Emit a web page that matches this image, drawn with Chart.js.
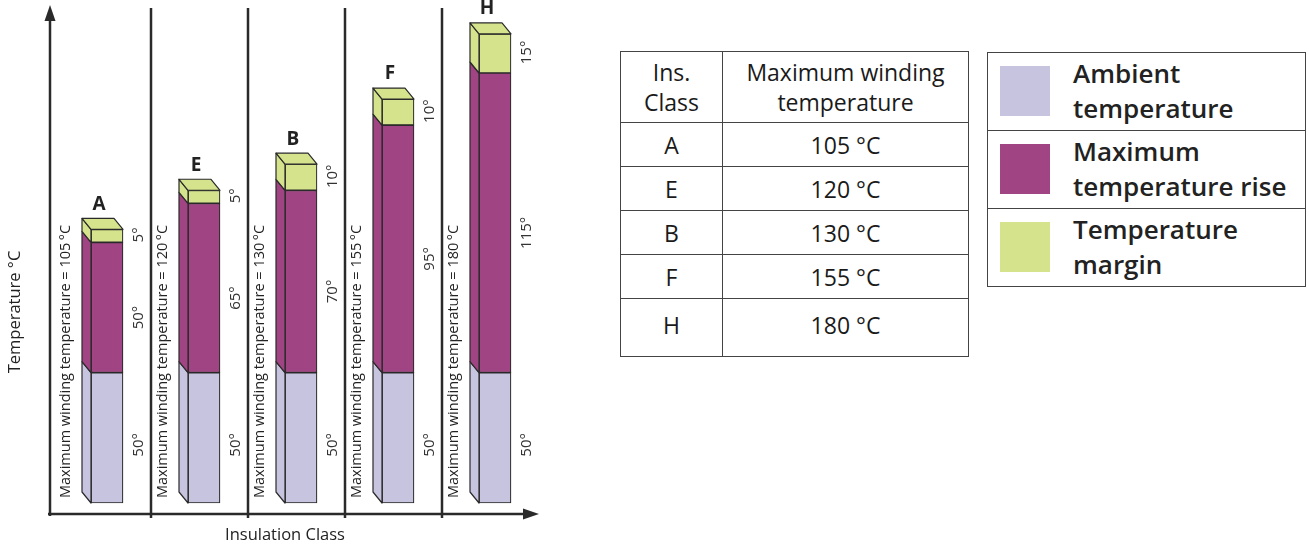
<!DOCTYPE html>
<html>
<head>
<meta charset="utf-8">
<script src="https://cdn.jsdelivr.net/npm/chart.js@4.4.1/dist/chart.umd.min.js"></script>
<style>
  body { margin: 0; background: #fff; width: 1309px; height: 549px; overflow: hidden; font-family: "Open Sans", Roboto, sans-serif; color: #222; }
  #chartBox { position: absolute; left: 0; top: 0; width: 600px; height: 549px; }
  #classTable { position: absolute; left: 620px; top: 51px; border-collapse: collapse; font-size: 23px; color: #1a1a1a; }
  #classTable td, #classTable th { border: 1.5px solid #444; text-align: center; font-weight: 500; padding: 0; }
  #classTable th { height: 70px; line-height: 30px; }
  #classTable td { height: 43px; }
  #classTable tr:last-child td { height: 51px; padding-bottom: 6px; }
  #legendBox { position: absolute; left: 987px; top: 52px; width: 317px; border: 1.5px solid #444; }
  .lg-row { position: relative; height: 77px; border-top: 1.5px solid #444; }
  .lg-row:first-child { border-top: none; }
  .lg-sw { position: absolute; left: 12px; top: 13px; width: 50px; height: 50px; }
  .lg-tx { position: absolute; left: 85px; top: 3px; font-size: 26px; font-weight: 600; line-height: 35px; color: #222; white-space: nowrap; }
</style>
</head>
<body>
<div id="chartBox"><canvas id="tempChart" width="600" height="549"></canvas></div>
<table id="classTable"></table>
<div id="legendBox"></div>
<script>
// datos del gráfico
const classes = ["A", "E", "B", "F", "H"];
const ambient = [50, 50, 50, 50, 50];
const rise = [50, 65, 70, 95, 115];
const margin = [5, 5, 10, 10, 15];
const maxWinding = [105, 120, 130, 155, 180];
const seriesNames = [["Ambient", "temperature"], ["Maximum", "temperature rise"], ["Temperature", "margin"]];
const seriesColors = ["#c7c4e0", "#a14483", "#d4e38c"];

const FONT = "'Open Sans', Roboto, sans-serif";

// tabla de clases
const table = document.getElementById("classTable");
let html = "<tr><th style='width:101px'>Ins.<br>Class</th><th style='width:245px'>Maximum winding<br>temperature</th></tr>";
classes.forEach((c, i) => {
  html += "<tr><td>" + c + "</td><td>" + maxWinding[i] + " \u00B0C</td></tr>";
});
table.innerHTML = html;

// leyenda
const legendBox = document.getElementById("legendBox");
seriesNames.forEach((n, i) => {
  legendBox.innerHTML += "<div class='lg-row'><div class='lg-sw' style='background:" + seriesColors[i] +
    "'></div><div class='lg-tx'>" + n[0] + "<br>" + n[1] + "</div></div>";
});

const DX = -9, DY = -11;
const lineColor = "#2a2a2a";

// caras laterales y superiores, ejes y rótulos
const box3d = {
  id: "box3d",
  beforeDatasetsDraw(chart) {
    const ctx = chart.ctx;
    const x = chart.scales.x;
    ctx.save();
    ctx.strokeStyle = lineColor;
    ctx.lineWidth = 2.5;
    // divisores
    for (let i = 1; i < classes.length; i++) {
      const px = Math.round((x.getPixelForValue(i - 1) + x.getPixelForValue(i)) / 2) - 5;
      ctx.beginPath();
      ctx.moveTo(px, 8);
      ctx.lineTo(px, 518);
      ctx.stroke();
    }
    // ejes
    ctx.beginPath();
    ctx.moveTo(50, 516);
    ctx.lineTo(50, 18);
    ctx.moveTo(48, 514);
    ctx.lineTo(528, 514);
    ctx.stroke();
    ctx.fillStyle = lineColor;
    ctx.beginPath();
    ctx.moveTo(50, 5); ctx.lineTo(44.5, 21); ctx.lineTo(55.5, 21); ctx.closePath(); ctx.fill();
    ctx.beginPath();
    ctx.moveTo(539, 514); ctx.lineTo(523, 508.5); ctx.lineTo(523, 519.5); ctx.closePath(); ctx.fill();
    // títulos de ejes
    ctx.fillStyle = "#222";
    ctx.font = "16.5px " + FONT;
    ctx.textAlign = "center";
    ctx.textBaseline = "middle";
    ctx.fillText("Insulation Class", 285, 535);
    ctx.save();
    ctx.translate(15, 312);
    ctx.rotate(-Math.PI / 2);
    ctx.fillText("Temperature \u00B0C", 0, 0);
    ctx.restore();
    ctx.restore();
  },
  afterDatasetsDraw(chart) {
    const ctx = chart.ctx;
    const n = chart.data.datasets.length;
    ctx.save();
    ctx.strokeStyle = lineColor;
    ctx.lineWidth = 1.2;
    ctx.lineJoin = "round";
    for (let d = 0; d < n; d++) {
      const ds = chart.data.datasets[d];
      chart.getDatasetMeta(d).data.forEach((bar, i) => {
        const x0 = bar.x - bar.width / 2, x1 = bar.x + bar.width / 2;
        const top = bar.y, bot = bar.base;
        ctx.fillStyle = ds.backgroundColor;
        // lateral
        ctx.beginPath();
        ctx.moveTo(x0, top);
        ctx.lineTo(x0 + DX, top + DY);
        ctx.lineTo(x0 + DX, bot + DY);
        ctx.lineTo(x0, bot);
        ctx.closePath();
        ctx.fill();
        ctx.stroke();
        if (d === n - 1) {
          // tapa
          ctx.beginPath();
          ctx.moveTo(x0, top);
          ctx.lineTo(x0 + DX, top + DY);
          ctx.lineTo(x1 + DX, top + DY);
          ctx.lineTo(x1, top);
          ctx.closePath();
          ctx.fill();
          ctx.stroke();
        }
        // valor del segmento
        const offs = [7, 10, -1];
        ctx.save();
        ctx.fillStyle = "#333";
        ctx.font = "15px " + FONT;
        ctx.textAlign = "center";
        ctx.textBaseline = "middle";
        ctx.translate(x1 + 16, (top + bot) / 2 + offs[d]);
        ctx.rotate(-Math.PI / 2);
        ctx.fillText(ds.data[i] + "\u00B0", 0, 0);
        ctx.restore();
      });
    }
    // letras de clase y texto vertical
    const last = chart.getDatasetMeta(n - 1).data;
    const first = chart.getDatasetMeta(0).data;
    last.forEach((bar, i) => {
      const x0 = bar.x - bar.width / 2;
      ctx.fillStyle = "#222";
      ctx.font = "bold 19px " + FONT;
      ctx.textAlign = "center";
      ctx.textBaseline = "middle";
      ctx.fillText(classes[i], bar.x - 8, bar.y + DY - 14);
      ctx.save();
      ctx.font = "14.5px " + FONT;
      ctx.textAlign = "left";
      ctx.translate(x0 - 25, first[i].base - 5);
      ctx.rotate(-Math.PI / 2);
      ctx.fillText("Maximum winding temperature = " + maxWinding[i] + "\u2009\u00B0C", 0, 0);
      ctx.restore();
    });
    ctx.restore();
  }
};

const barStyle = { borderColor: lineColor, borderWidth: 1.2, borderSkipped: false, barThickness: 32 };

new Chart(document.getElementById("tempChart"), {
  type: "bar",
  data: {
    labels: classes,
    datasets: [
      Object.assign({ label: "Ambient temperature", data: ambient, backgroundColor: seriesColors[0] }, barStyle),
      Object.assign({ label: "Maximum temperature rise", data: rise, backgroundColor: seriesColors[1] }, barStyle),
      Object.assign({ label: "Temperature margin", data: margin, backgroundColor: seriesColors[2] }, barStyle),
    ],
  },
  options: {
    responsive: false,
    animation: false,
    layout: { padding: { left: 58.5, right: 56.5, top: 8, bottom: 35 } },
    scales: {
      x: { stacked: true, display: false },
      y: { stacked: true, display: false, min: -4.22, max: 189.94 },
    },
    plugins: { legend: { display: false }, tooltip: { enabled: false } },
  },
  plugins: [box3d],
});
</script>
</body>
</html>
